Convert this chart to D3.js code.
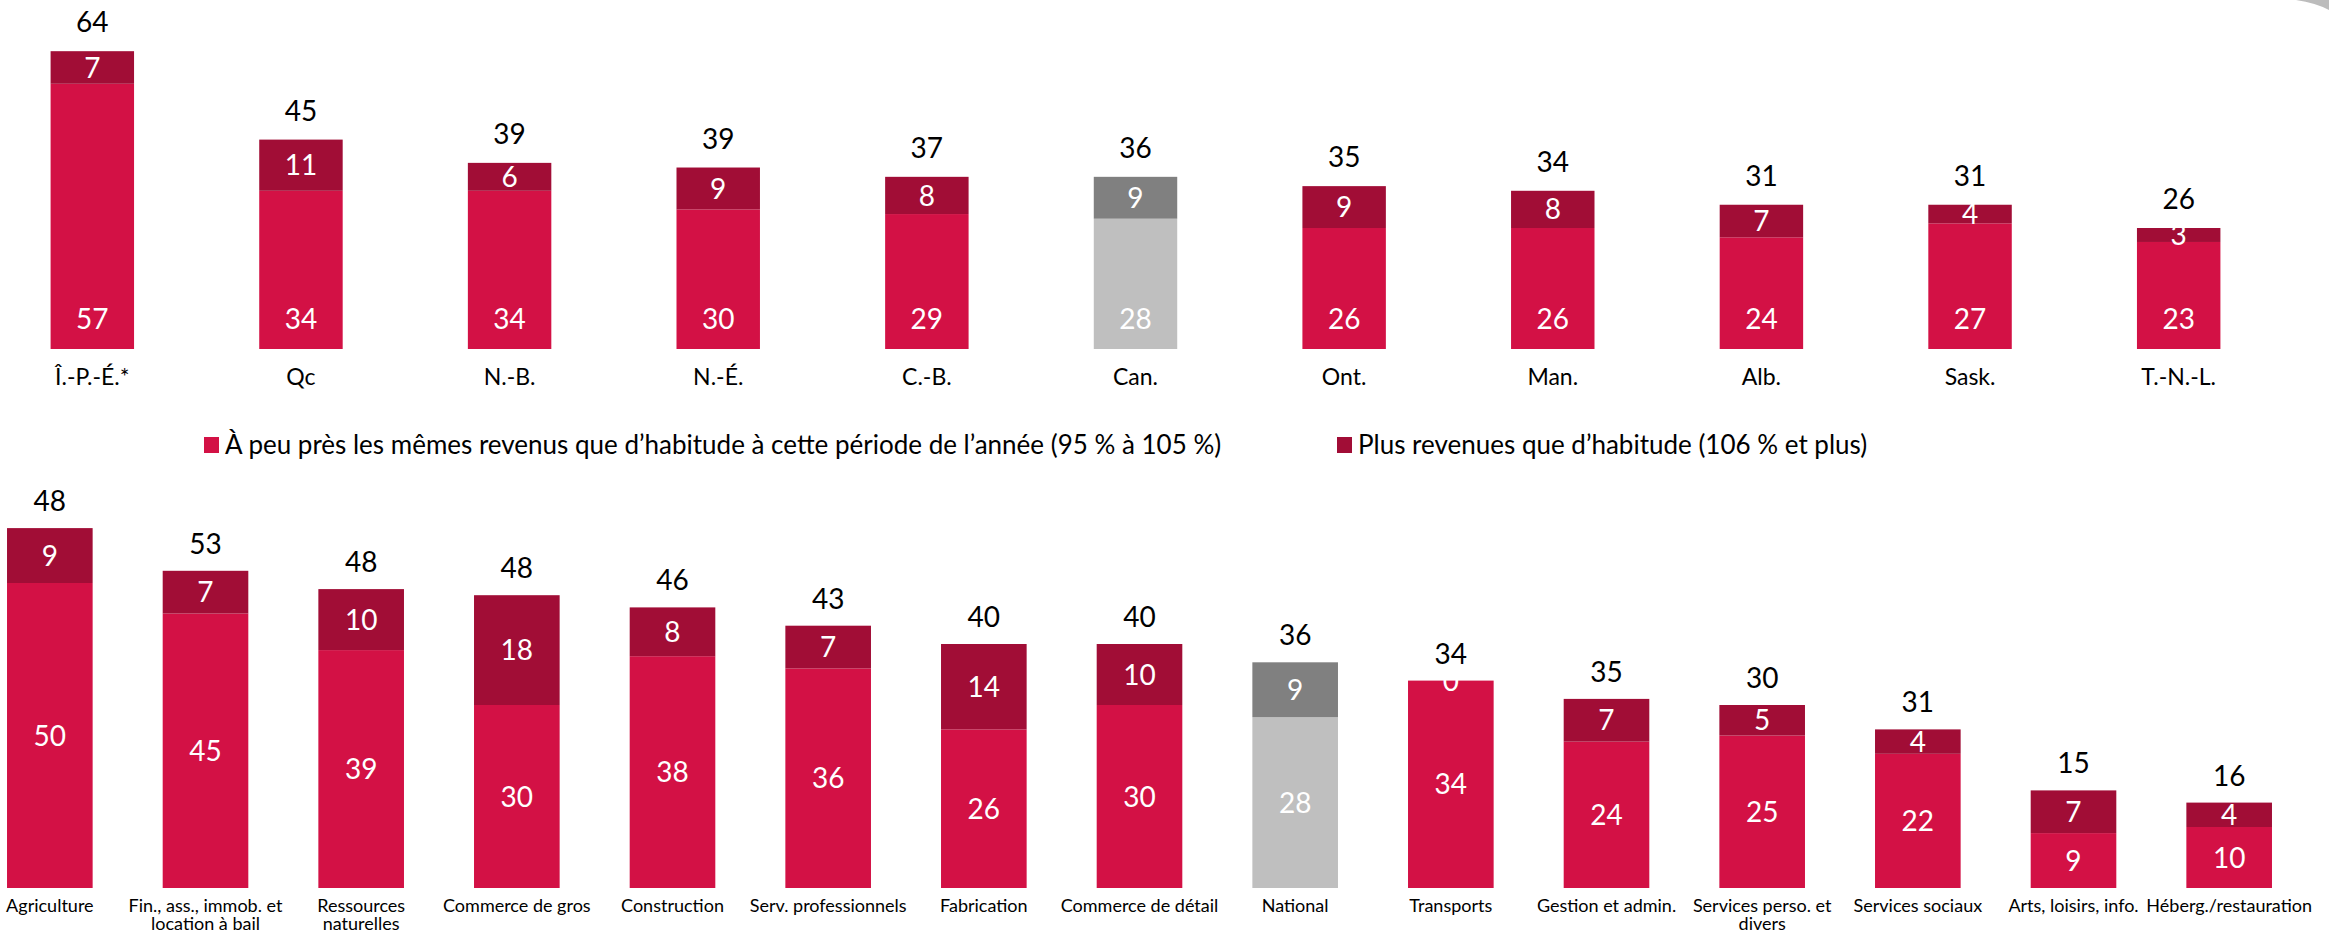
<!DOCTYPE html>
<html>
<head>
<meta charset="utf-8">
<script src="https://cdn.jsdelivr.net/npm/d3@7"></script>
<style>
  body { margin: 0; background: #fff; }
  svg { display: block; font-family: Lato, "Noto Sans", sans-serif; }
</style>
</head>
<body>
<svg width="2329" height="936"></svg>
<script>
var provinces = ["Î.-P.-É.*", "Qc", "N.-B.", "N.-É.", "C.-B.", "Can.", "Ont.", "Man.", "Alb.", "Sask.", "T.-N.-L."];
var provSame  = [57, 34, 34, 30, 29, 28, 26, 26, 24, 27, 23];
var provMore  = [7, 11, 6, 9, 8, 9, 9, 8, 7, 4, 3];
var provTotal = [64, 45, 39, 39, 37, 36, 35, 34, 31, 31, 26];

var sectors = ["Agriculture", "Fin., ass., immob. et|location à bail", "Ressources|naturelles",
  "Commerce de gros", "Construction", "Serv. professionnels", "Fabrication", "Commerce de détail",
  "National", "Transports", "Gestion et admin.", "Services perso. et|divers", "Services sociaux",
  "Arts, loisirs, info.", "Héberg./restauration"];
var secSame  = [50, 45, 39, 30, 38, 36, 26, 30, 28, 34, 24, 25, 22, 9, 10];
var secMore  = [9, 7, 10, 18, 8, 7, 14, 10, 9, 0, 7, 5, 4, 7, 4];
var secTotal = [48, 53, 48, 48, 46, 43, 40, 40, 36, 34, 35, 30, 31, 15, 16];

var seriesNames = ["À peu près les mêmes revenus que d’habitude à cette période de l’année (95 % à 105 %)",
  "Plus revenues que d’habitude (106 % et plus)"];
var totalNames = ["Can.", "National"];

var red = "#d31145", darkRed = "#a10d36", lightGrey = "#bfbfbf", darkGrey = "#808080";

var svg = d3.select("svg");

// small grey corner left over from the slide
svg.append("path")
    .attr("d", "M2296,0 L2329,0 L2329,10 Q2316,3 2296,0 Z")
    .attr("fill", "#bcbcbc");

function drawPanel(opts) {
  var data = opts.cats.map(function(c, i) {
    return {cat: c, same: opts.same[i], more: opts.more[i], total: opts.total[i]};
  });

  var x = d3.scaleBand()
      .domain(opts.cats)
      .range(opts.xRange)
      .paddingInner(opts.pad)
      .paddingOuter(opts.pad / 2);

  var y = d3.scaleLinear()
      .domain(opts.yDomain)
      .range(opts.yRange);

  var g = svg.append("g");

  var bar = g.selectAll(".bar")
    .data(data)
    .enter().append("g")
      .attr("class", "bar")
      .attr("transform", function(d) { return "translate(" + x(d.cat) + ",0)"; });

  bar.append("rect")
      .attr("y", function(d) { return y(d.same); })
      .attr("width", x.bandwidth())
      .attr("height", function(d) { return y(0) - y(d.same); })
      .attr("fill", function(d) { return totalNames.indexOf(d.cat) >= 0 ? lightGrey : red; });

  bar.append("rect")
      .attr("y", function(d) { return y(d.same + d.more); })
      .attr("width", x.bandwidth())
      .attr("height", function(d) { return y(d.same) - y(d.same + d.more); })
      .attr("fill", function(d) { return totalNames.indexOf(d.cat) >= 0 ? darkGrey : darkRed; });

  var cx = x.bandwidth() / 2;

  bar.append("text")
      .attr("x", cx)
      .attr("y", function(d) { return opts.baseLabel ? y(0) - 30 : (y(0) + y(d.same)) / 2; })
      .attr("dy", "0.36em")
      .attr("text-anchor", "middle")
      .attr("fill", "#fff")
      .style("font-size", "28px")
      .text(function(d) { return d.same; });

  bar.append("text")
      .attr("x", cx)
      .attr("y", function(d) { return (y(d.same) + y(d.same + d.more)) / 2; })
      .attr("dy", "0.36em")
      .attr("text-anchor", "middle")
      .attr("fill", "#fff")
      .style("font-size", "28px")
      .text(function(d) { return d.more; });

  bar.append("text")
      .attr("x", cx)
      .attr("y", function(d) { return y(d.same + d.more) - opts.totalGap; })
      .attr("dy", "0.36em")
      .attr("text-anchor", "middle")
      .attr("fill", "#000")
      .style("font-size", "28px")
      .text(function(d) { return d.total; });

  var lab = bar.append("text")
      .attr("x", cx)
      .attr("y", opts.labelY)
      .attr("text-anchor", "middle")
      .attr("fill", "#000")
      .style("font-size", opts.labelSize + "px");

  lab.selectAll("tspan")
    .data(function(d) { return d.cat.split("|"); })
    .enter().append("tspan")
      .attr("x", cx)
      .attr("dy", function(d, i) { return i ? opts.lineHeight : 0; })
      .text(function(d) { return d; });
}

drawPanel({
  cats: provinces, same: provSame, more: provMore, total: provTotal,
  xRange: [-12, 2283], pad: 0.6,
  yDomain: [0, 75], yRange: [349, 0],
  baseLabel: true, totalGap: 29,
  labelY: 385, labelSize: 23, lineHeight: 0
});

drawPanel({
  cats: sectors, same: secSame, more: secMore, total: secTotal,
  xRange: [-28, 2307], pad: 0.45,
  yDomain: [0, 60], yRange: [888, 522],
  baseLabel: false, totalGap: 27,
  labelY: 912, labelSize: 18, lineHeight: 18
});

// legend
var legendX = [204, 1337];
var legend = svg.selectAll(".legend")
  .data(seriesNames)
  .enter().append("g")
    .attr("class", "legend")
    .attr("transform", function(d, i) { return "translate(" + legendX[i] + ",437)"; });

legend.append("rect")
    .attr("width", 15)
    .attr("height", 16)
    .attr("fill", function(d, i) { return i ? darkRed : red; });

legend.append("text")
    .attr("x", 21)
    .attr("y", 8)
    .attr("dy", "0.36em")
    .style("font-size", "26px")
    .attr("fill", "#000")
    .text(function(d) { return d; });
</script>
</body>
</html>
